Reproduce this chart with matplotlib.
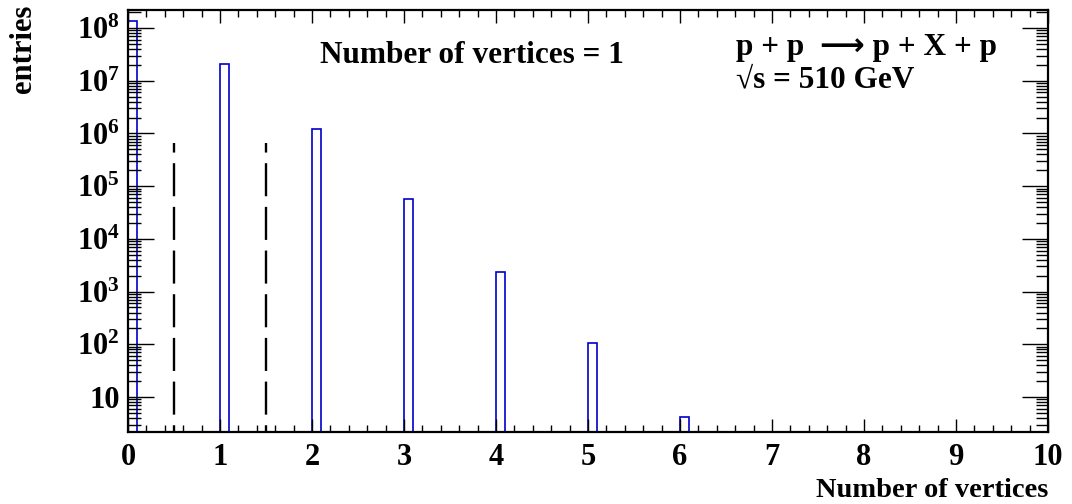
import numpy as np
import matplotlib
matplotlib.use("Agg")
import matplotlib.pyplot as plt
from matplotlib.ticker import MultipleLocator, LogLocator, FixedLocator, NullFormatter

# histogram content (bin left edges and entries)
bin_edges = [0, 1, 2, 3, 4, 5, 6]
entries = [1.35e8, 2.1e7, 1.22e6, 5.6e4, 2.4e3, 1.05e2, 4]
bin_width = 0.1
cut_lines = [0.5, 1.5]
cut_height = 6.7e5
y_ticks = [10, 1e2, 1e3, 1e4, 1e5, 1e6, 1e7, 1e8]
y_labels = ["10", r"$10^{2}$", r"$10^{3}$", r"$10^{4}$", r"$10^{5}$",
            r"$10^{6}$", r"$10^{7}$", r"$10^{8}$"]
x_ticks = [0, 1, 2, 3, 4, 5, 6, 7, 8, 9, 10]

plt.rcParams['font.family'] = ['Liberation Serif', 'DejaVu Serif']
plt.rcParams['font.weight'] = 'bold'
plt.rcParams['mathtext.fontset'] = 'custom'
plt.rcParams['mathtext.rm'] = 'Liberation Serif:bold'
plt.rcParams['mathtext.it'] = 'Liberation Serif:bold'
plt.rcParams['mathtext.bf'] = 'Liberation Serif:bold'

fig = plt.figure(figsize=(10.72, 5.04), dpi=100)
ax = fig.add_axes([128/1072, 72/504, 920/1072, 422/504])

ax.bar(bin_edges, entries, width=bin_width, bottom=0.1, align='edge',
       fill=False, edgecolor='#0000cc', linewidth=1.2)
ax.vlines(cut_lines, 0.1, cut_height, colors='black', linewidth=1.7,
          linestyles=(0, (14, 4.5)))

ax.set_yscale('log')
ax.set_xlim(0, 10)
ax.set_ylim(2.17, 2.2e8)

ax.xaxis.set_major_locator(FixedLocator(x_ticks))
ax.xaxis.set_minor_locator(MultipleLocator(0.2))
ax.set_xticklabels([str(t) for t in x_ticks])
ax.yaxis.set_major_locator(FixedLocator(y_ticks))
ax.set_yticklabels(y_labels)
ax.yaxis.set_minor_locator(LogLocator(base=10, subs=np.arange(2, 10), numticks=20))
ax.yaxis.set_minor_formatter(NullFormatter())

ax.tick_params(which='both', direction='in', top=True, right=True, width=1.0)
ax.tick_params(axis='x', which='major', length=9.5, labelsize=22, pad=8)
ax.tick_params(axis='x', which='minor', length=4.7)
ax.tick_params(axis='y', which='major', length=18.5, labelsize=22, pad=6)
ax.tick_params(axis='y', which='minor', length=9)
for lab in ax.get_xticklabels() + ax.get_yticklabels():
    lab.set_fontweight('bold')
for s in ax.spines.values():
    s.set_linewidth(1.6)

fig.text(1048/1072, 7/504, "Number of vertices", ha='right', va='baseline',
         fontsize=20.5, fontweight='bold')
fig.text(24/1072, 0.99, "entries", rotation=90, ha='center', va='top',
         fontsize=22, fontweight='bold')

ax.text(0.374, 0.891, "Number of vertices = 1", transform=ax.transAxes,
        ha='center', va='center', fontsize=22.5, fontweight='bold')
ax.text(0.661, 0.912, "p + p  \u27f6 p + X + p", transform=ax.transAxes,
        ha='left', va='center', fontsize=22.5, fontweight='bold',
        family=['Liberation Serif', 'DejaVu Sans'])
ax.text(0.661, 0.834, "\u221As = 510 GeV", transform=ax.transAxes,
        ha='left', va='center', fontsize=22.5, fontweight='bold',
        family=['Liberation Serif', 'DejaVu Serif'])

fig.savefig("out.png", dpi=100)
